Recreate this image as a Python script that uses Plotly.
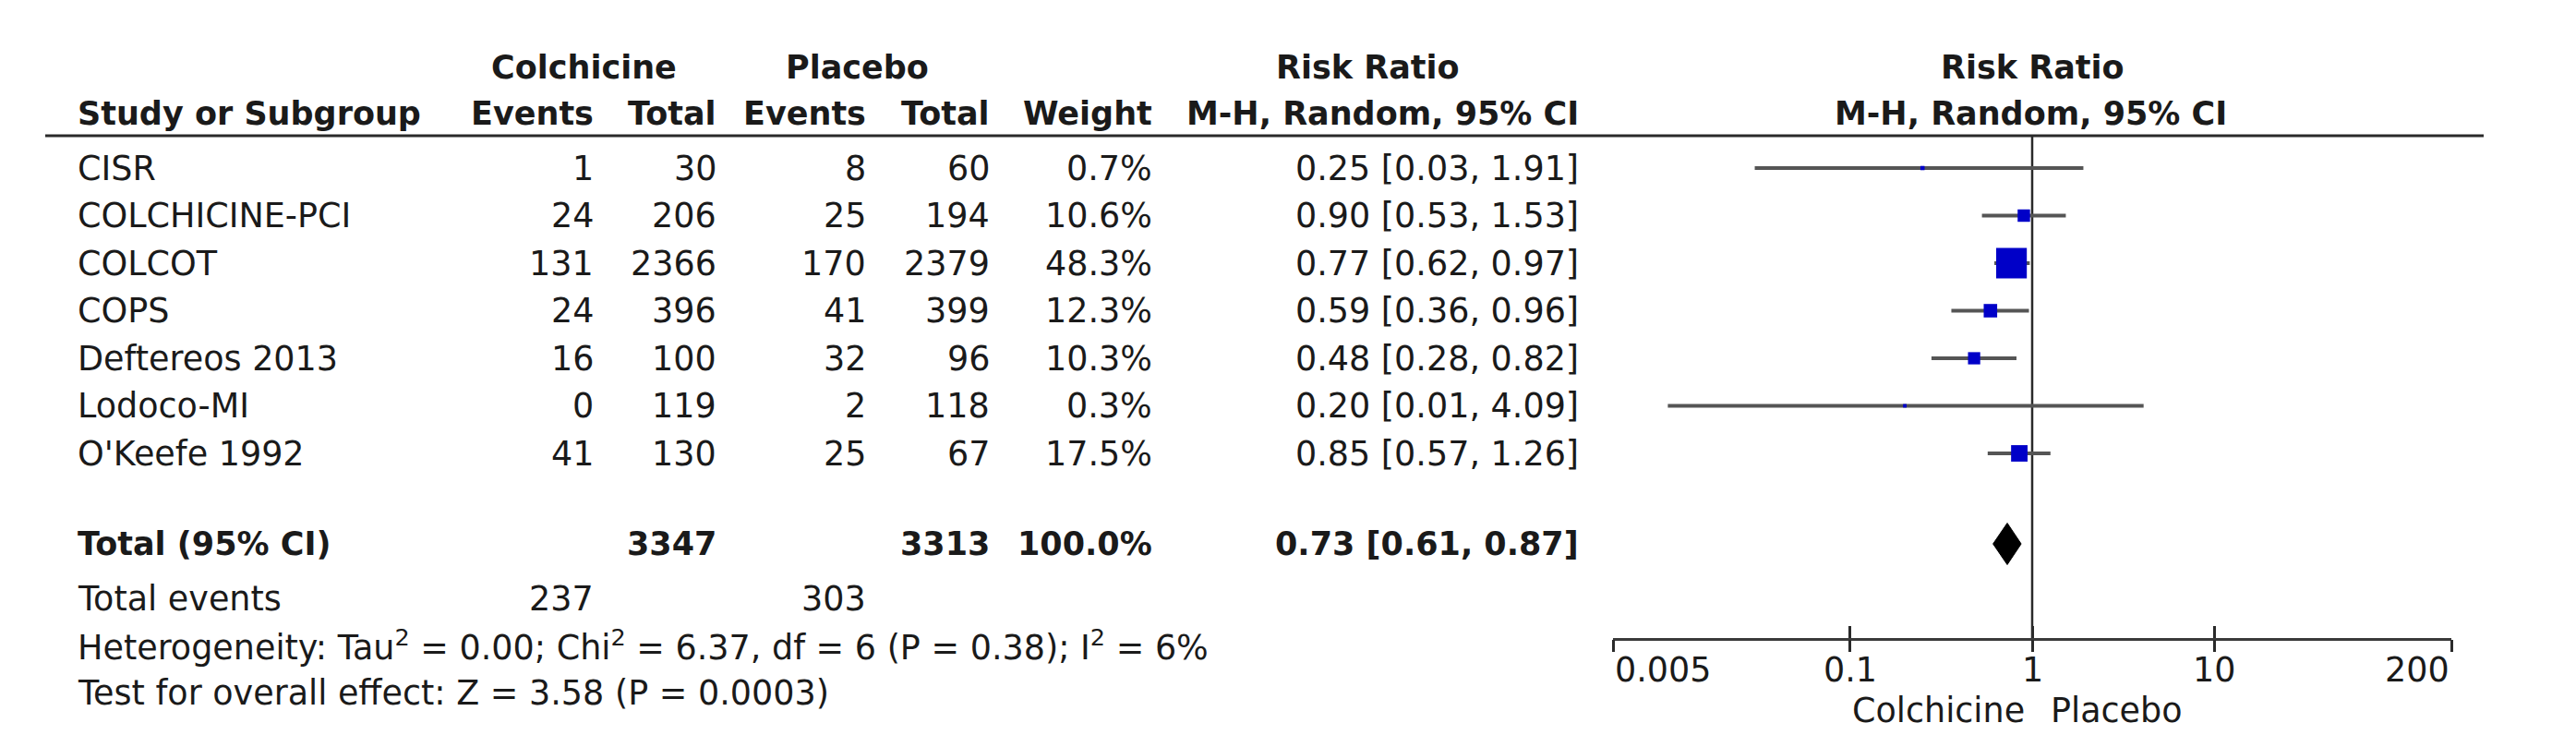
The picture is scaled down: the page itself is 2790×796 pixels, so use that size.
import numpy as np
import plotly.graph_objects as go

# ---------------- data ----------------
studies = ["CISR", "COLCHICINE-PCI", "COLCOT", "COPS", "Deftereos 2013", "Lodoco-MI", "O'Keefe 1992"]
col_events = [1, 24, 131, 24, 16, 0, 41]
col_total = [30, 206, 2366, 396, 100, 119, 130]
pla_events = [8, 25, 170, 41, 32, 2, 25]
pla_total = [60, 194, 2379, 399, 96, 118, 67]
weights = [0.7, 10.6, 48.3, 12.3, 10.3, 0.3, 17.5]
rr = [0.25, 0.90, 0.77, 0.59, 0.48, 0.20, 0.85]
rr_lo = [0.03, 0.53, 0.62, 0.36, 0.28, 0.01, 0.57]
rr_hi = [1.91, 1.53, 0.97, 0.96, 0.82, 4.09, 1.26]

total_col_n = 3347
total_pla_n = 3313
total_weight = 100.0
total_rr, total_lo, total_hi = 0.73, 0.61, 0.87
total_col_events = 237
total_pla_events = 303
heterogeneity = "Heterogeneity: Tau<sup>2</sup> = 0.00; Chi<sup>2</sup> = 6.37, df = 6 (P = 0.38); I<sup>2</sup> = 6%"
overall_effect = "Test for overall effect: Z = 3.58 (P = 0.0003)"

tick_vals = [0.005, 0.1, 1, 10, 200]
tick_text = ["0.005", "0.1", "1", "10", "200"]
favours = ["Colchicine", "Placebo"]

# ---------------- layout helpers ----------------
W, H = 2790, 796
ROW0, STEP = 182, 51.5
FONT = "DejaVu Sans"
FS = 36.5
FSB = 35
TXT = "#1a1a1a"


def ypx(p):
    return (p - ROW0) / STEP


def xp(p):
    return p / W


annotations = []


def ann(text, xpix, y, anchor="left", bold=False):
    size = FS
    if bold:
        text = "<b>" + text + "</b>"
        size = FSB
    annotations.append(dict(text=text, x=xp(xpix), xref="paper", y=y, yref="y",
                            xanchor=anchor, yanchor="middle", showarrow=False,
                            font=dict(family=FONT, size=size, color=TXT)))


X_NAME = 82
X_CE, X_CT, X_PE, X_PT, X_W, X_RR = 645, 778, 940, 1074, 1250, 1712

# headers
ann("Colchicine", 632, ypx(73), "center", True)
ann("Placebo", 928, ypx(73), "center", True)
ann("Risk Ratio", 1481, ypx(73), "center", True)
ann("Risk Ratio", 2201, ypx(73), "center", True)
ann("Study or Subgroup", X_NAME, ypx(123), "left", True)
ann("Events", X_CE, ypx(123), "right", True)
ann("Total", X_CT, ypx(123), "right", True)
ann("Events", X_PE, ypx(123), "right", True)
ann("Total", X_PT, ypx(123), "right", True)
ann("Weight", X_W, ypx(123), "right", True)
ann("M-H, Random, 95% CI", X_RR, ypx(123), "right", True)
ann("M-H, Random, 95% CI", 2199, ypx(123), "center", True)

# study rows
for i, s in enumerate(studies):
    ann(s, X_NAME, i, "left")
    ann(str(col_events[i]), X_CE, i, "right")
    ann(str(col_total[i]), X_CT, i, "right")
    ann(str(pla_events[i]), X_PE, i, "right")
    ann(str(pla_total[i]), X_PT, i, "right")
    ann(f"{weights[i]:.1f}%", X_W, i, "right")
    ann(f"{rr[i]:.2f} [{rr_lo[i]:.2f}, {rr_hi[i]:.2f}]", X_RR, i, "right")

Y_TOT = ypx(589)
ann("Total (95% CI)", X_NAME, Y_TOT, "left", True)
ann(str(total_col_n), X_CT, Y_TOT, "right", True)
ann(str(total_pla_n), X_PT, Y_TOT, "right", True)
ann(f"{total_weight:.1f}%", X_W, Y_TOT, "right", True)
ann(f"{total_rr:.2f} [{total_lo:.2f}, {total_hi:.2f}]", X_RR, Y_TOT, "right", True)

ann("Total events", X_NAME, ypx(648), "left")
ann(str(total_col_events), X_CE, ypx(648), "right")
ann(str(total_pla_events), X_PE, ypx(648), "right")
ann(heterogeneity, X_NAME, ypx(699), "left")
ann(overall_effect, X_NAME, ypx(750), "left")

# axis tick labels (placed through the log x axis)
for k, (v, t) in enumerate(zip(tick_vals, tick_text)):
    anchor = "left" if k == 0 else ("right" if k == len(tick_vals) - 1 else "center")
    annotations.append(dict(text=t, x=np.log10(v), xref="x", y=ypx(725), yref="y",
                            xanchor=anchor, yanchor="middle", showarrow=False,
                            font=dict(family=FONT, size=FS, color=TXT)))
annotations.append(dict(text=favours[0], x=np.log10(1), xref="x", xshift=-6, y=ypx(769), yref="y",
                        xanchor="right", yanchor="middle", showarrow=False,
                        font=dict(family=FONT, size=FS, color=TXT)))
annotations.append(dict(text=favours[1], x=np.log10(1), xref="x", xshift=18, y=ypx(769), yref="y",
                        xanchor="left", yanchor="middle", showarrow=False,
                        font=dict(family=FONT, size=FS, color=TXT)))

# ---------------- traces ----------------
fig = go.Figure()

# reference line at RR = 1
fig.add_trace(go.Scatter(x=[1, 1], y=[ypx(147), ypx(692)], mode="lines",
                         line=dict(color="#2a2a2a", width=2.5), hoverinfo="skip"))

# confidence intervals
ci_x, ci_y = [], []
for i in range(len(studies)):
    ci_x += [rr_lo[i], rr_hi[i], None]
    ci_y += [i, i, None]
fig.add_trace(go.Scatter(x=ci_x, y=ci_y, mode="lines",
                         line=dict(color="#555555", width=4), hoverinfo="skip"))

# point estimates (square size grows with weight)
sizes = [3 + 2.0 * w ** 0.7 for w in weights]
fig.add_trace(go.Scatter(x=rr, y=list(range(len(studies))), mode="markers",
                         marker=dict(symbol="square", size=sizes, color="#0000c8", opacity=1,
                                     line=dict(width=0)), hoverinfo="skip"))

# pooled diamond
half = 22.5 / STEP
fig.add_trace(go.Scatter(x=[total_lo, total_rr, total_hi, total_rr, total_lo],
                         y=[Y_TOT, Y_TOT - half, Y_TOT, Y_TOT + half, Y_TOT],
                         mode="lines", fill="toself", fillcolor="#000000",
                         line=dict(color="#000000", width=1), hoverinfo="skip"))

# helper trace for second tick axis
fig.add_trace(go.Scatter(x=[1], y=[ypx(692)], xaxis="x2", mode="markers",
                         marker=dict(size=1, opacity=0), hoverinfo="skip"))

lo_r, hi_r = np.log10(tick_vals[0]), np.log10(tick_vals[-1])
dom = [xp(1747), xp(2655)]
axpos = 1 - 692 / H

fig.update_layout(
    width=W, height=H,
    margin=dict(l=0, r=0, t=0, b=0),
    paper_bgcolor="white", plot_bgcolor="white",
    showlegend=False,
    annotations=annotations,
    shapes=[dict(type="line", xref="paper", yref="paper",
                 x0=xp(49), x1=xp(2690), y0=1 - 147 / H, y1=1 - 147 / H,
                 line=dict(color="#2a2a2a", width=3))],
    xaxis=dict(type="log", range=[lo_r, hi_r], domain=dom, anchor="free", position=axpos,
               showgrid=False, zeroline=False, showline=True, linecolor="#3a3a3a", linewidth=3,
               ticks="inside", ticklen=13, tickwidth=2.5, tickcolor="#2a2a2a",
               tickvals=tick_vals, showticklabels=False),
    xaxis2=dict(type="log", range=[lo_r, hi_r], domain=dom, anchor="free", position=axpos,
                overlaying="x", showgrid=False, zeroline=False, showline=False,
                ticks="outside", ticklen=13, tickwidth=2.5, tickcolor="#2a2a2a",
                tickvals=tick_vals, showticklabels=False),
    yaxis=dict(range=[ypx(H), ypx(0)], domain=[0, 1], visible=False,
               showgrid=False, zeroline=False),
)

fig.write_html("out.html", config={"displayModeBar": False},
               post_script="document.body.style.margin='0px';")
